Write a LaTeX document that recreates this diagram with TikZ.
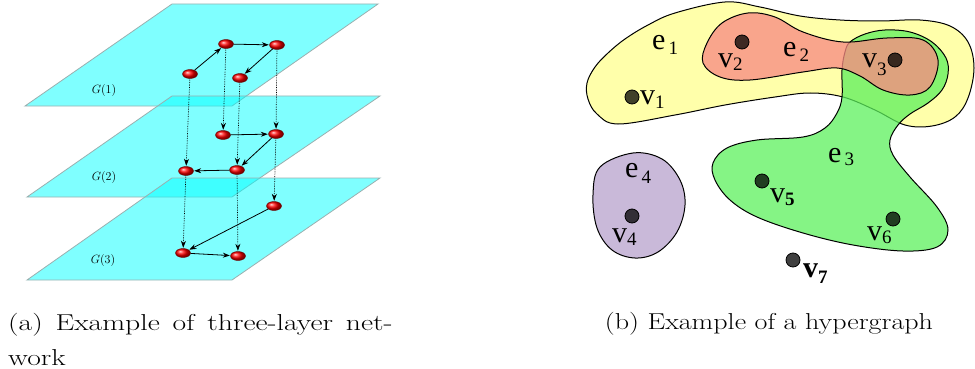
\documentclass[tikz,border=0pt]{standalone}
\usepackage{fontspec}
\usepackage{graphicx}
\newfontfamily\timesf{Liberation Serif}
\usetikzlibrary{arrows.meta,shapes.geometric}
\definecolor{planec}{HTML}{00FFFF}
\definecolor{planeedge}{HTML}{9AAFAF}
\definecolor{yellowc}{HTML}{FFFFAA}
\definecolor{greenc}{HTML}{5CF05C}
\definecolor{redc}{HTML}{F88A83}
\definecolor{purplec}{HTML}{C9B9D9}
\newcommand\hlab[3]{{\timesf\fontsize{30}{30}\selectfont #1\raisebox{#2}{\fontsize{19}{19}\selectfont #3}}}
\newcommand\wideb[1]{\scalebox{1.22}[1]{#1}}
\newcommand\widea[1]{\scalebox{1.29}[1]{#1}}
\begin{document}
\begin{tikzpicture}[x=1pt,y=-1pt,
  plane/.style={fill=planec, fill opacity=0.5, draw=planeedge, line width=0.8pt},
  rn/.style={ellipse, minimum width=15pt, minimum height=9pt, inner sep=0pt, ball color=red, draw={rgb,255:red,110;green,0;blue,0}, line width=0.4pt},
  se/.style={-{Stealth[length=7pt,width=5pt]}, line width=0.8pt, shorten >=0.5pt},
  de/.style={densely dotted, -{Stealth[length=7pt,width=5pt]}, line width=0.7pt, shorten >=0.5pt},
  glab/.style={inner sep=0pt, font=\fontsize{12}{12}\selectfont},
  blob/.style={draw=black, line width=1pt},
  vx/.style={circle, minimum size=14pt, inner sep=0pt, fill=black, fill opacity=0.75, draw=black, draw opacity=1, line width=0.8pt},
  hl/.style={anchor=base west, inner sep=0pt},
  captxt/.style={inner sep=0pt, font=\fontsize{23}{28}\selectfont}]
\useasboundingbox (0,0) rectangle (975,369);

% ---------- (a) three-layer network ----------
\path[plane] (172,4) -- (378,4) -- (232,106) -- (25,106) -- cycle;
\path[plane] (172,96) -- (380,96) -- (232,197) -- (27,197) -- cycle;
\path[plane] (172,178) -- (380,178) -- (232,280) -- (27,280) -- cycle;

\node[glab] (g1) at (104,91) {$G(1)$};
\node[glab] (g2) at (104,177) {$G(2)$};
\node[glab] (g3) at (103,260) {$G(3)$};

\node[rn] (a) at (190,74) {};
\node[rn] (b) at (226,44) {};
\node[rn] (c) at (277,45) {};
\node[rn] (d) at (240,78) {};
\node[rn] (e) at (223,135) {};
\node[rn] (f) at (276,134) {};
\node[rn] (g) at (186,171) {};
\node[rn] (h) at (237,170) {};
\node[rn] (i) at (274,206) {};
\node[rn] (j) at (183,253) {};
\node[rn] (k) at (238,256) {};

\draw[de] (a) -- (g);
\draw[de] (b) -- (e);
\draw[de] (d) -- (h);
\draw[de] (c) -- (f);
\draw[de] (f) -- (i);
\draw[de] (g) -- (j);
\draw[de] (h) -- (k);

\draw[se] (a) -- (b);
\draw[se] (b) -- (c);
\draw[se] (c) -- (d);
\draw[se] (e) -- (f);
\draw[se] (f) -- (h);
\draw[se] (h) -- (g);
\draw[se] (i) -- (j);
\draw[se] (j) -- (k);

% ---------- (b) hypergraph ----------
\path[blob, fill=yellowc] plot[smooth cycle, tension=0.6] coordinates {
 (587,83) (595,67) (608,53) (625,39) (648,25) (675,13) (725,2) (760,7) (800,16)
 (840,20) (880,21) (920,20) (950,26) (968,42) (974,68) (968,98) (955,117)
 (932,126) (905,125) (875,110) (843,97) (810,93) (775,97) (725,105) (675,115)
 (618,124) (597,114) (588,99)};

\path[blob, fill=greenc, fill opacity=0.75] plot[smooth cycle, tension=0.6] coordinates {
 (850,42) (865,34) (885,30) (910,32) (932,42) (946,58) (948,74) (942,90)
 (928,103) (910,114) (898,125) (890,140) (893,155) (910,177) (937,207)
 (948,230) (937,247) (903,251) (853,245) (803,233) (757,217) (730,200)
 (715,180) (713,163) (727,148) (757,140) (803,137) (825,128) (837,113)
 (842,97) (842,70) (845,52)};

\path[blob, fill=redc, fill opacity=0.77] plot[smooth cycle, tension=0.6] coordinates {
 (748,13) (775,17) (803,32) (843,42) (887,38) (923,40) (938,60) (930,87)
 (910,95) (883,90) (860,76) (837,68) (803,72) (750,80) (720,77) (703,63)
 (707,43) (722,23)};

\path[blob, fill=purplec] plot[smooth cycle, tension=0.6] coordinates {
 (633,153) (662,159) (680,180) (685,205) (677,232) (658,252) (635,258)
 (612,250) (597,228) (593,195) (600,167)};

\node[vx] (v1) at (632,97) {};
\node[vx] (v2) at (742,42) {};
\node[vx] (v3) at (895,60) {};
\node[vx] (v4) at (632,216) {};
\node[vx] (v5) at (762,181) {};
\node[vx] (v6) at (893,219) {};
\node[vx] (v7) at (793,260) {};

\node[hl] (lv1) at (640,104) {\hlab{v}{-4pt}{1}};
\node[hl] (lv2) at (718,68) {\hlab{v}{-2pt}{2}};
\node[hl] (lv3) at (862,68) {\hlab{v}{-7pt}{3}};
\node[hl] (lv4) at (612,242) {\hlab{v}{-3pt}{4}};
\node[hl] (lv5) at (770,202) {\hlab{v}{-3pt}{\bfseries 5}};
\node[hl] (lv6) at (867,240) {\hlab{v}{-3pt}{6}};
\node[hl] (lv7) at (803,277) {\hlab{\bfseries v}{-6pt}{7}};
\node[hl] (le1) at (652,50) {\hlab{e}{-5pt}{\,1}};
\node[hl] (le2) at (783,57) {\hlab{e}{-5pt}{\,2}};
\node[hl] (le3) at (828,162) {\hlab{e}{-3pt}{\,3}};
\node[hl] (le4) at (625,177) {\hlab{e}{-6pt}{\,4}};

% ---------- captions ----------
\node[captxt, anchor=base west] (capa1) at (8,330) {\widea{\makebox[298pt][s]{(a) Example of three-layer net-}}};
\node[captxt, anchor=base west] (capa2) at (8,365) {\widea{work}};
\node[captxt, anchor=base] (capb) at (769,329) {\wideb{(b) Example of a hypergraph}};
\end{tikzpicture}
\end{document}
